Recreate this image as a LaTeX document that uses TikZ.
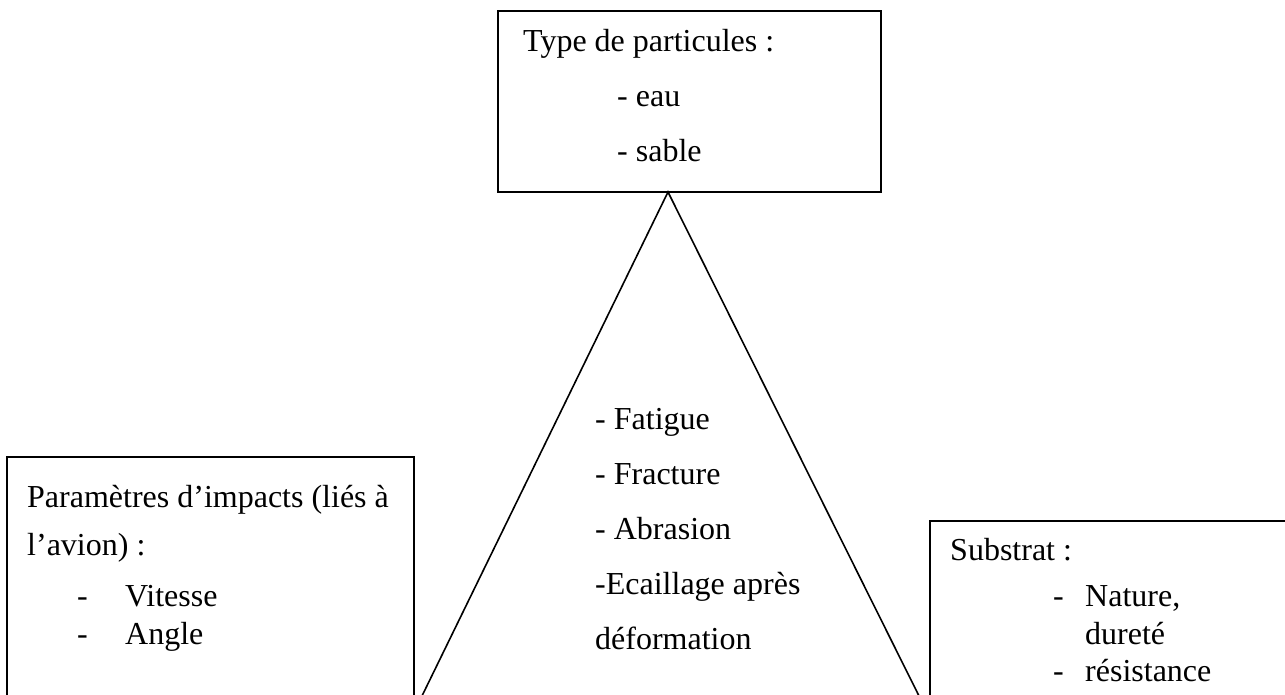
\documentclass[tikz,border=0pt]{standalone}
\usepackage{fontspec}
\setmainfont{Liberation Serif}
\begin{document}
\begin{tikzpicture}[x=1pt,y=-1pt,
  box/.style={draw=black,line width=1.6pt,fill=none,inner sep=0pt},
  txt/.style={anchor=base west,inner sep=0pt,font=\fontsize{32}{38}\selectfont},
  edge/.style={line width=1.6pt}]
\useasboundingbox (0,0) rectangle (1285,695);
\clip (0,0) rectangle (1285,695);
% boxes
\node[box,minimum width=383pt,minimum height=181pt] (top) at (689.5,101.5) {};
\node[box,minimum width=407pt,minimum height=263pt] (left) at (210.5,588.5) {};
\node[box,minimum width=370pt,minimum height=199pt] (right) at (1115,620.5) {};
% triangle
\coordinate (apex) at (668,192);
\coordinate (bl) at (421,698);
\coordinate (br) at (920,698);
\draw[edge] (bl) -- (apex) -- (br);
% top texts
\node[txt] (t1) at (523,52) {Type de particules :};
\node[txt] (t2) at (617,107) {- eau};
\node[txt] (t3) at (617,162) {- sable};
% centre texts
\node[txt] (c1) at (595,429) {- Fatigue};
\node[txt] (c2) at (595,484) {- Fracture};
\node[txt] (c3) at (595,539) {- Abrasion};
\node[txt] (c4) at (595,594) {-Ecaillage après};
\node[txt] (c5) at (595,649) {déformation};
% left texts
\node[txt] (l1) at (27,507) {Paramètres d’impacts (liés à};
\node[txt] (l2) at (27,555) {l’avion) :};
\node[txt] (l3) at (77,606) {-};
\node[txt] (l4) at (125,606) {Vitesse};
\node[txt] (l5) at (77,644) {-};
\node[txt] (l6) at (125,644) {Angle};
% right texts
\node[txt] (r1) at (950,560) {Substrat :};
\node[txt] (r2) at (1053,606) {-};
\node[txt] (r3) at (1085,606) {Nature,};
\node[txt] (r4) at (1085,644) {dureté};
\node[txt] (r5) at (1053,681) {-};
\node[txt] (r6) at (1085,681) {résistance};
\end{tikzpicture}
\end{document}
